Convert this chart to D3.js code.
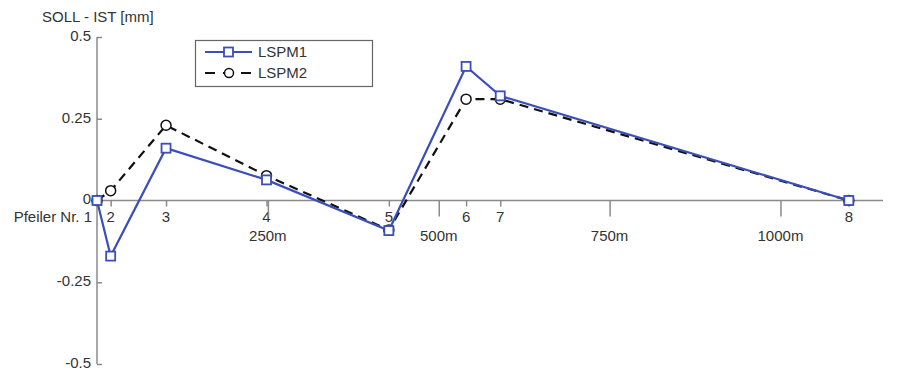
<!DOCTYPE html>
<html><head><meta charset="utf-8">
<script src="https://cdn.jsdelivr.net/npm/d3@7"></script>
<style>
body{margin:0;background:#fff;}
svg{display:block;font-family:"Liberation Sans",Arial,Helvetica,sans-serif;}
</style></head>
<body><svg id="c" width="907" height="374"></svg>
<script>
// Data
const pfeiler = ["1","2","3","4","5","6","7","8"];
const positions = [0, 20, 101, 248, 427, 540, 590, 1100];  // m
const lspm1 = [0, -0.17, 0.16, 0.063, -0.092, 0.41, 0.32, 0];
const lspm2 = [0, 0.03, 0.23, 0.076, -0.09, 0.31, 0.31, 0];
const meterTicks = [250, 500, 750, 1000];
const meterLabels = ["250m", "500m", "750m", "1000m"];
const yTicks = [-0.5, -0.25, 0, 0.25, 0.5];
const yTickLabels = ["-0.5", "-0.25", "0", "0.25", "0.5"];
const seriesNames = ["LSPM1", "LSPM2"];

const svg = d3.select("#c");
const x = d3.scaleLinear().domain([0, 1150]).range([97, 883]);
const y = d3.scaleLinear().domain([-0.5, 0.5]).range([364, 37]);
const axisCol = "#8a8a8a", textCol = "#333";
const blue = "#3b4fb8";

// y axis
const ya = svg.append("g").attr("transform", `translate(${x(0)},0)`)
  .call(d3.axisRight(y).tickValues(yTicks).tickSize(5).tickFormat(""));
ya.select(".domain").attr("stroke", axisCol).attr("stroke-width", 1.5).attr("d", `M0,${y(-0.5)}V${y(0.5)}`);
ya.selectAll(".tick line").attr("stroke", axisCol).attr("stroke-width", 1.5);
svg.append("g").selectAll("text").data(yTicks).join("text")
  .attr("x", x(0) - 6).attr("y", d => y(d) - 1.5).attr("dy", "0.35em")
  .attr("text-anchor", "end").attr("font-size", 15).attr("fill", textCol)
  .text((d, i) => yTickLabels[i]);

svg.append("text").attr("x", 42).attr("y", 22).attr("font-size", 15).attr("fill", textCol)
  .text("SOLL - IST [mm]");

// x axis (pfeiler ticks)
const xa = svg.append("g").attr("transform", `translate(0,${y(0)})`)
  .call(d3.axisBottom(x).tickValues(positions.slice(1)).tickSize(6).tickFormat(""));
xa.select(".domain").attr("stroke", axisCol).attr("stroke-width", 1.5).attr("d", `M${x(0)},0H${x(1150)}`);
xa.selectAll(".tick line").attr("stroke", axisCol).attr("stroke-width", 1.5);
svg.append("g").selectAll("text").data(positions.slice(1)).join("text")
  .attr("x", d => x(d)).attr("y", y(0) + 21).attr("text-anchor", "middle")
  .attr("font-size", 15).attr("fill", textCol)
  .text((d, i) => pfeiler[i + 1]);
svg.append("text").attr("x", x(0) - 5).attr("y", y(0) + 21).attr("text-anchor", "end")
  .attr("font-size", 15).attr("fill", textCol).text("Pfeiler Nr. " + pfeiler[0]);

// meter ticks
const ma = svg.append("g").attr("transform", `translate(0,${y(0)})`)
  .call(d3.axisBottom(x).tickValues(meterTicks).tickSize(16).tickFormat(""));
ma.select(".domain").remove();
ma.selectAll(".tick line").attr("stroke", axisCol).attr("stroke-width", 1.5);
svg.append("g").selectAll("text").data(meterTicks).join("text")
  .attr("x", d => x(d)).attr("y", y(0) + 40).attr("text-anchor", "middle")
  .attr("font-size", 15).attr("fill", textCol)
  .text((d, i) => meterLabels[i]);

// lines
const line = d3.line().x((d, i) => x(positions[i])).y(d => y(d));
svg.append("path").datum(lspm2).attr("d", line).attr("fill", "none")
  .attr("stroke", "#111").attr("stroke-width", 2.2).attr("stroke-dasharray", "9,6");
svg.append("g").selectAll("circle").data(lspm2).join("circle")
  .attr("cx", (d, i) => x(positions[i])).attr("cy", d => y(d)).attr("r", 5)
  .attr("fill", "#fff").attr("stroke", "#111").attr("stroke-width", 1.5);

svg.append("path").datum(lspm1).attr("d", line).attr("fill", "none")
  .attr("stroke", blue).attr("stroke-width", 2.2);
svg.append("g").selectAll("rect").data(lspm1).join("rect")
  .attr("x", (d, i) => x(positions[i]) - 4.5).attr("y", d => y(d) - 4.5)
  .attr("width", 9).attr("height", 9)
  .attr("fill", "#fff").attr("stroke", blue).attr("stroke-width", 1.8);

// legend
const lg = svg.append("g");
lg.append("rect").attr("x", 195.5).attr("y", 40.5).attr("width", 177).attr("height", 46)
  .attr("fill", "#fff").attr("stroke", "#666").attr("stroke-width", 1.2);
lg.append("line").attr("x1", 205).attr("x2", 252).attr("y1", 52).attr("y2", 52)
  .attr("stroke", blue).attr("stroke-width", 2.2);
lg.append("rect").attr("x", 224).attr("y", 47.5).attr("width", 9).attr("height", 9)
  .attr("fill", "#fff").attr("stroke", blue).attr("stroke-width", 1.8);
lg.append("line").attr("x1", 205).attr("x2", 252).attr("y1", 73).attr("y2", 73)
  .attr("stroke", "#111").attr("stroke-width", 2.2).attr("stroke-dasharray", "10,8");
lg.append("circle").attr("cx", 229).attr("cy", 73).attr("r", 4.5)
  .attr("fill", "#fff").attr("stroke", "#111").attr("stroke-width", 1.5);
lg.selectAll("text.lt").data(seriesNames).join("text").attr("class", "lt")
  .attr("x", 258).attr("y", (d, i) => 52 + i * 21).attr("dy", "0.35em")
  .attr("font-size", 15).attr("fill", textCol).text(d => d);
</script></body></html>
